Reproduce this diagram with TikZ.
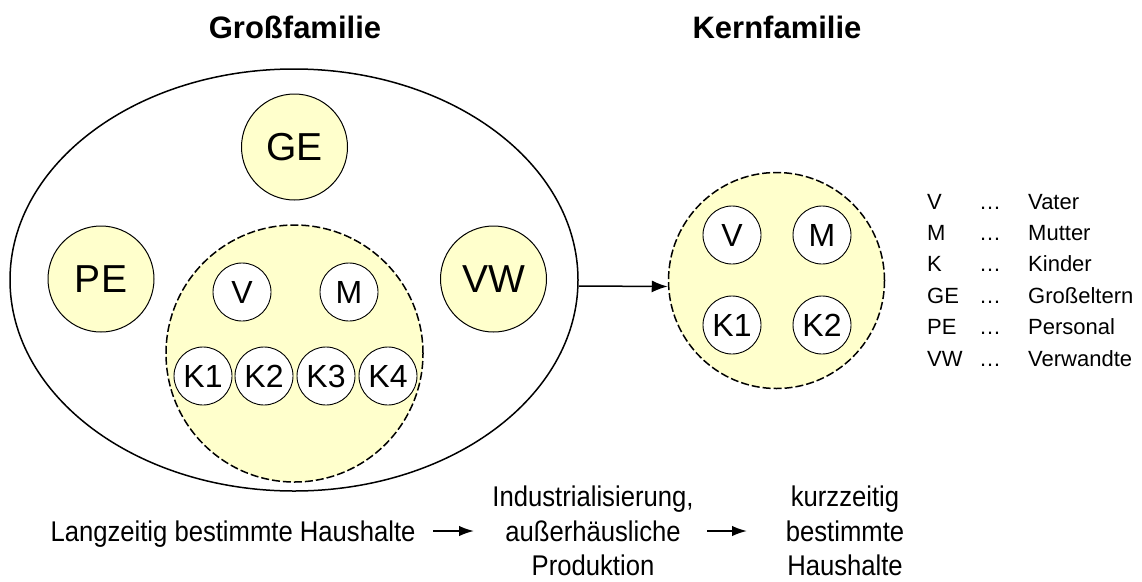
\documentclass[tikz,border=0pt]{standalone}
\usepackage{fontspec}
\setmainfont{Liberation Sans}
\newfontfamily\narrowfont{Liberation Sans}[FakeStretch=0.9]
\usetikzlibrary{shapes.geometric,arrows.meta}
\definecolor{famfill}{RGB}{255,255,204}
\begin{document}
\begin{tikzpicture}[x=1pt,y=-1pt,
  bigc/.style={circle,draw,line width=1pt,fill=famfill,minimum size=106pt,inner sep=0pt,font=\fontsize{39}{39}\selectfont},
  smallc/.style={circle,draw,line width=0.9pt,fill=white,minimum size=58pt,inner sep=0pt,font=\fontsize{32}{32}\selectfont},
  groupc/.style={circle,draw,line width=1.5pt,dash pattern=on 8pt off 3pt,fill=famfill,inner sep=0pt},
  titletxt/.style={font=\fontsize{31}{31}\selectfont\bfseries,anchor=base,inner sep=0pt},
  legtext/.style={font=\fontsize{22}{22}\selectfont,anchor=base west,inner sep=0pt},
  bottxt/.style={font=\narrowfont\fontsize{28.5}{34.5}\selectfont,align=center,inner sep=0pt},
  conn/.style={line width=1.5pt,-{Latex[length=16pt,width=12pt]}},
  flow/.style={line width=1.8pt,-{Latex[length=15pt,width=10.5pt]}}]
\useasboundingbox (0,0) rectangle (1142,581);

% titles
\node[titletxt] (t1) at (295,38) {Großfamilie};
\node[titletxt] (t2) at (777,38) {Kernfamilie};

% Grossfamilie
\node[ellipse,draw,line width=1.5pt,minimum width=568pt,minimum height=422pt,inner sep=0pt] (gross) at (294,280) {};
\node[bigc] (ge) at (294.5,147) {GE};
\node[bigc] (pe) at (101,279) {PE};
\node[bigc] (vw) at (493.5,279) {VW};
\node[groupc,minimum size=257pt] (core) at (294.5,353.5) {};
\node[smallc] (v1) at (242,292) {V};
\node[smallc] (m1) at (349,292) {M};
\node[smallc] (k1) at (203,376) {K1};
\node[smallc] (k2) at (264,376) {K2};
\node[smallc] (k3) at (326,376) {K3};
\node[smallc] (k4) at (388,376) {K4};

% Kernfamilie
\node[groupc,minimum size=216pt] (kern) at (776.5,280.5) {};
\node[smallc] (v2) at (732,235) {V};
\node[smallc] (m2) at (822,235) {M};
\node[smallc] (kk1) at (732,325) {K1};
\node[smallc] (kk2) at (822,325) {K2};

\draw[conn] ([yshift=-6pt]gross.east) -- ([yshift=-6pt]kern.west);

% legend
\foreach \ab/\word [count=\i from 0] in {V/Vater,M/Mutter,K/Kinder,GE/Großeltern,PE/Personal,VW/Verwandte}{
  \node[legtext] (la\i) at (927,209+31.4*\i) {\ab};
  \node[legtext] (ld\i) at (979,209+31.4*\i) {…};
  \node[legtext] (lw\i) at (1028,209+31.4*\i) {\word};
}

% bottom
\node[bottxt,anchor=base] (lang) at (233,541.5) {Langzeitig bestimmte Haushalte};
\node[bottxt,anchor=north] (indu) at (593,486) {Industrialisierung,\\außerhäusliche\\Produktion};
\node[bottxt,anchor=north] (kurz) at (845,486) {kurzzeitig\\bestimmte\\Haushalte};
\coordinate (a1s) at (433,531);
\coordinate (a1e) at (474,531);
\coordinate (a2s) at (707,531);
\coordinate (a2e) at (747,531);
\draw[flow] (a1s) -- (a1e);
\draw[flow] (a2s) -- (a2e);
\end{tikzpicture}
\end{document}
